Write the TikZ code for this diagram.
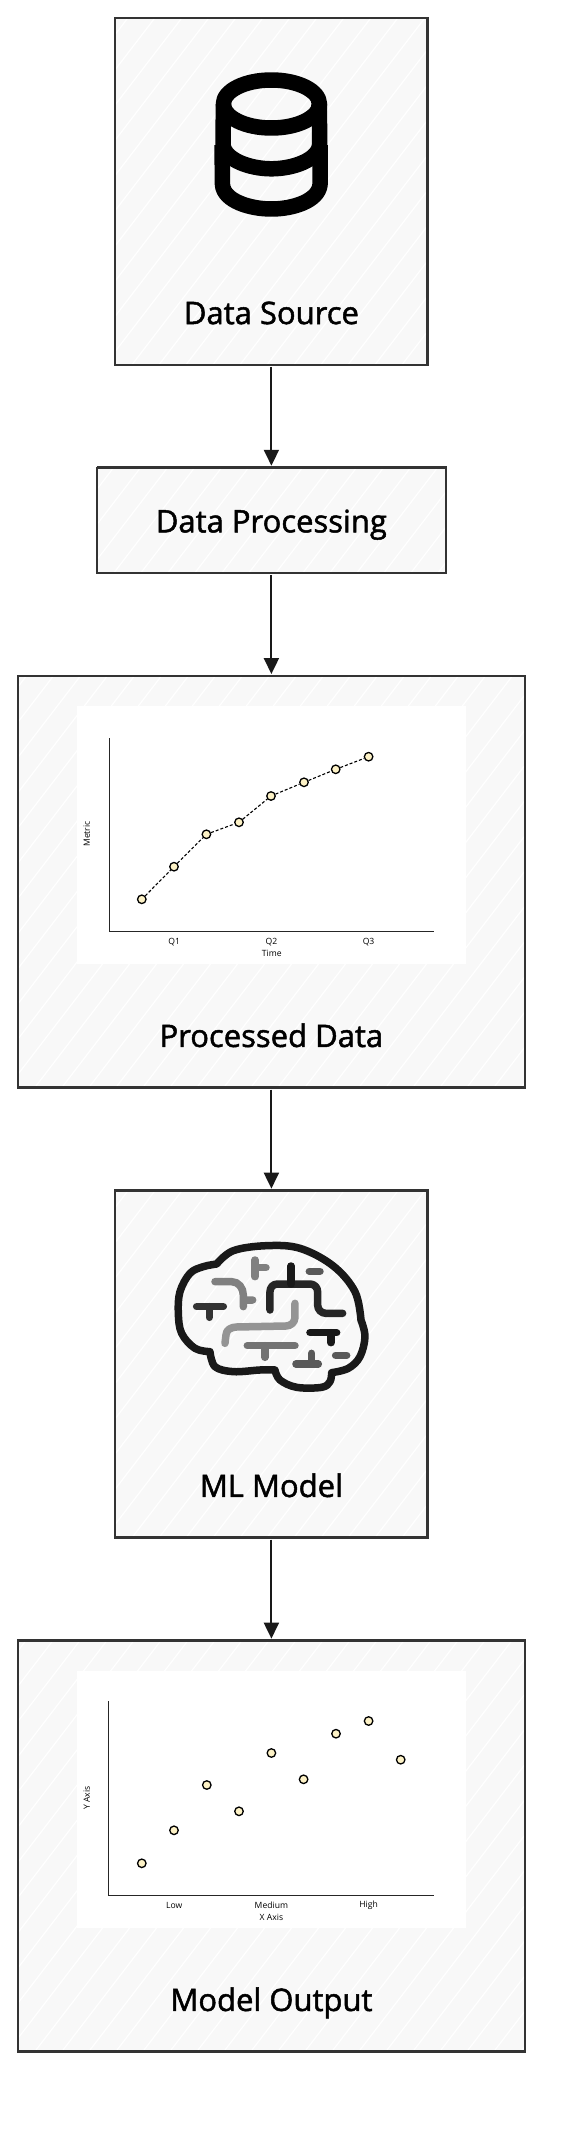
\documentclass[tikz,border=0pt]{standalone}
\usepackage{xcolor}
\usepackage{fontspec}
\setmainfont{Open Sans}
\newfontfamily\titlefont[FakeBold=1.6]{Open Sans}
\usepackage{tikz}
\usetikzlibrary{arrows.meta, positioning, calc}

\definecolor{edgeink}{HTML}{333333}
\definecolor{paperfill}{HTML}{F8F8F8}
\definecolor{dotfill}{HTML}{FDF2C6}

\begin{document}
\begin{tikzpicture}[
    x=1pt, y=1pt,
    node distance=103pt,
    sketchbox/.style={rectangle, draw=edgeink, line width=2.4pt, fill=paperfill, outer sep=0pt,
        preaction={draw=edgeink, line width=1pt, transform canvas={shift={(0.9pt,0.9pt)}}},
        path picture={
            \foreach \k in {-500,-473,...,520}
                \draw[white, line width=1.2pt] ($(path picture bounding box.south west)+(\k,-5)$) -- ++(460,600);
        }},
    titletext/.style={inner sep=0pt, text height=20pt, text depth=0pt, font=\titlefont\fontsize{31}{35}\selectfont, text=black},
    chartpanel/.style={rectangle, fill=white, minimum width=389pt, minimum height=257.5pt, inner sep=0pt},
    charttext/.style={inner sep=0pt, font=\fontsize{8.6}{10}\selectfont},
    chartaxis/.style={draw=black!85, line width=1.1pt},
    datapoint/.style={circle, draw=black, line width=1.3pt, fill=dotfill, minimum size=8.5pt, inner sep=0pt},
    trendline/.style={draw=black, line width=1.1pt, dash pattern=on 3pt off 2pt},
    linkarrow/.style={draw=black!90, line width=2pt, shorten <=2pt, shorten >=2pt, -{Stealth[length=16pt, width=15pt, inset=0pt]}},
    dbline/.style={draw=black, line width=15.5pt, line join=round},
    brainline/.style={line width=7.5pt, line cap=round, line join=round}
]
    \useasboundingbox (0,0) rectangle (560,-2130);

    % Boxes
    \node[sketchbox, minimum width=312.5pt, minimum height=346.7pt] (src) at (271.4,-191.4) {};
    \node[sketchbox, minimum width=349pt, minimum height=105.3pt, below=of src] (proc) {};
    \node[sketchbox, minimum width=507pt, minimum height=411.6pt, below=of proc] (clean) {};
    \node[sketchbox, minimum width=312.5pt, minimum height=347pt, below=of clean] (model) {};
    \node[sketchbox, minimum width=507pt, minimum height=411pt, below=of model] (result) {};

    % Titles
    \node[titletext, above=40.5pt of src.south] (srctitle) {Data Source};
    \node[titletext, above=40.5pt of proc.south] (proctitle) {Data Processing};
    \node[titletext, above=40.5pt of clean.south] (cleantitle) {Processed Data};
    \node[titletext, above=40.5pt of model.south] (modeltitle) {ML Model};
    \node[titletext, above=40.5pt of result.south] (resulttitle) {Model Output};

    % Arrows
    \draw[linkarrow] (src) -- (proc);
    \draw[linkarrow] (proc) -- (clean);
    \draw[linkarrow] (clean) -- (model);
    \draw[linkarrow] (model) -- (result);

    % Database icon
    \draw[dbline] (271.4,-104) ellipse (48 and 24);
    \draw[dbline] (223.4,-104) -- (223,-145) .. controls (225,-160) and (250,-168.8) .. (271.4,-168.8)
        .. controls (293,-168.8) and (318,-160) .. (319.6,-145) -- (319.4,-104);
    \draw[dbline] (222,-145) -- (222.5,-185) .. controls (224,-201) and (250,-209) .. (271.4,-209)
        .. controls (293,-209) and (318,-201) .. (320,-185) -- (320,-145);

    % Line chart
    \node[chartpanel, below=30pt of clean.north] (linepanel) {};
    \coordinate (ltop) at (109.6,-738.3);
    \coordinate (lorigin) at (109.6,-931.7);
    \coordinate (lright) at (434,-931.7);
    \draw[chartaxis] (ltop) -- (lorigin) -- (lright);
    \node[charttext] (q1) at (174.3,-942) {Q1};
    \node[charttext] (q2) at (271.4,-942) {Q2};
    \node[charttext] (q3) at (368.6,-942) {Q3};
    \node[charttext] (timelabel) at (271.8,-953.7) {Time};
    \node[charttext, rotate=90] (metriclabel) at (86.8,-834) {Metric};
    \node[datapoint] (l1) at (141.8,-899.3) {};
    \node[datapoint] (l2) at (174,-866.7) {};
    \node[datapoint] (l3) at (206.4,-834.3) {};
    \node[datapoint] (l4) at (239,-822.3) {};
    \node[datapoint] (l5) at (271,-796) {};
    \node[datapoint] (l6) at (304,-782.3) {};
    \node[datapoint] (l7) at (335.7,-769.3) {};
    \node[datapoint] (l8) at (368.6,-756.7) {};
    \draw[trendline] (l1) -- (l2);
    \draw[trendline] (l2) -- (l3);
    \draw[trendline] (l3) -- (l4);
    \draw[trendline] (l4) -- (l5);
    \draw[trendline] (l5) -- (l6);
    \draw[trendline] (l6) -- (l7);
    \draw[trendline] (l7) -- (l8);

    % Brain icon
    \begin{scope}[shift={(100,-1180)}, x=0.3333pt, y=-0.3333pt]
        \draw[brainline, draw=black!90]
            plot[smooth, tension=0.6] coordinates {(350,252) (400,212) (500,197) (600,205) (700,258) (765,335) (783,420)}
            -- plot[smooth, tension=0.6] coordinates {(783,420) (795,470) (780,530) (745,565) (695,578)}
            -- plot[smooth, tension=0.6] coordinates {(695,578) (690,605) (665,622) (590,622) (540,600) (525,570)}
            -- plot[smooth, tension=0.6] coordinates {(525,570) (480,570) (400,575) (345,560) (330,515)}
            -- plot[smooth, tension=0.6] coordinates {(330,515) (285,505) (245,460) (235,400) (240,335) (270,280) (310,260) (350,252)} -- cycle;
        \draw[brainline, draw=black!50] (465,240) -- (465,290) (465,263) -- (498,263);
        \draw[brainline, draw=black!50] (345,305) -- (395,305) to[out=0, in=90] (430,345) -- (430,380) (430,360) -- (458,360);
        \draw[brainline, draw=black!80] (290,380) -- (370,380) (328,380) -- (328,412);
        \draw[brainline, draw=black!85] (510,390) -- (510,335) to[out=90, in=180] (532,312) -- (630,312) to[out=0, in=90] (653,335) -- (653,375) to[out=-90, in=180] (678,400) -- (728,400);
        \draw[brainline, draw=black!90] (573,258) -- (573,312);
        \draw[brainline, draw=black!65] (628,274) -- (660,274);
        \draw[brainline, draw=black!42] (585,370) -- (585,412) to[out=-90, in=0] (558,438) -- (410,441) to[out=180, in=90] (378,465) -- (375,490);
        \draw[brainline, draw=black!90] (630,458) -- (710,458) (693,458) -- (693,488);
        \draw[brainline, draw=black!55] (442,497) -- (585,497) (495,497) -- (495,532);
        \draw[brainline, draw=black!65] (588,552) -- (655,552) (635,520) -- (635,552);
        \draw[brainline, draw=black!65] (707,526) -- (740,526);
    \end{scope}

    % Scatter chart
    \node[chartpanel, below=30pt of result.north] (dotpanel) {};
    \coordinate (stop) at (108.6,-1701);
    \coordinate (sorigin) at (108.6,-1895.3);
    \coordinate (sright) at (434,-1895.3);
    \draw[chartaxis] (stop) -- (sorigin) -- (sright);
    \node[charttext] (low) at (174.3,-1905) {Low};
    \node[charttext] (medium) at (271.4,-1905) {Medium};
    \node[charttext] (high) at (368.6,-1905) {High};
    \node[charttext] (xlabel) at (271.4,-1917.7) {X Axis};
    \node[charttext, rotate=90] (ylabel) at (86.8,-1798) {Y Axis};
    \node[datapoint] (s1) at (141.8,-1863.3) {};
    \node[datapoint] (s2) at (174,-1830.3) {};
    \node[datapoint] (s3) at (206.8,-1785) {};
    \node[datapoint] (s4) at (239,-1811.3) {};
    \node[datapoint] (s5) at (271.4,-1753) {};
    \node[datapoint] (s6) at (303.6,-1779.3) {};
    \node[datapoint] (s7) at (336,-1733.7) {};
    \node[datapoint] (s8) at (368.6,-1721) {};
    \node[datapoint] (s9) at (400.7,-1759.7) {};
\end{tikzpicture}
\end{document}
